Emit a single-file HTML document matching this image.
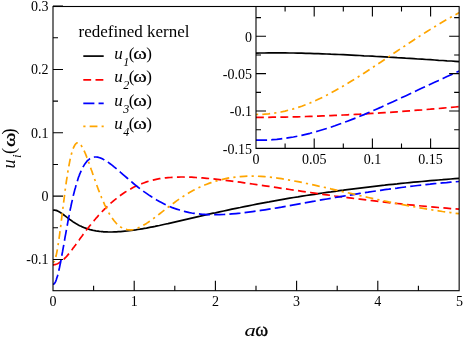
<!DOCTYPE html>
<html><head><meta charset="utf-8"><title>chart</title>
<style>html,body{margin:0;padding:0;background:#fff}body{width:464px;height:338px;overflow:hidden;font-family:"Liberation Serif",serif}</style></head>
<body>
<svg width="464" height="338" viewBox="0 0 464 338" style="display:block;will-change:transform">
<rect x="0" y="0" width="464" height="338" fill="#fff"/>
<defs><clipPath id="cm"><rect x="53" y="6.5" width="406.15" height="284.2"/></clipPath><clipPath id="ci"><rect x="256" y="6.5" width="203.15" height="141.9"/></clipPath></defs>
<g clip-path="url(#cm)" fill="none" stroke-width="1.7" stroke-linejoin="round">
<path d="M53.0 210.4 53.6 210.2 54.3 210.2 54.9 210.2 55.6 210.3 56.2 210.4 56.8 210.6 57.5 210.9 58.1 211.2 58.7 211.5 59.4 211.9 60.0 212.3 60.7 212.7 61.3 213.1 61.9 213.6 62.6 214.0 63.2 214.5 63.9 215.0 64.5 215.5 65.1 215.9 65.8 216.4 66.4 216.9 67.1 217.4 67.7 217.9 68.3 218.4 69.0 218.8 69.6 219.3 70.2 219.8 70.9 220.2 71.5 220.7 72.2 221.1 72.8 221.6 73.4 222.0 74.1 222.4 74.7 222.8 75.4 223.2 76.0 223.6 76.6 224.0 77.3 224.3 77.9 224.7 78.5 225.0 79.2 225.4 79.8 225.7 80.5 226.0 81.1 226.3 81.7 226.6 82.4 226.9 83.0 227.2 83.7 227.4 84.3 227.7 84.9 227.9 85.6 228.2 86.2 228.4 86.8 228.6 87.5 228.8 88.1 229.0 88.8 229.2 89.4 229.4 90.0 229.6 90.7 229.8 91.3 229.9 92.0 230.1 92.6 230.2 93.2 230.4 93.9 230.5 94.5 230.6 95.2 230.7 95.8 230.9 96.4 231.0 97.1 231.1 97.7 231.2 98.3 231.2 99.0 231.3 99.6 231.4 100.3 231.5 100.9 231.5 101.5 231.6 102.2 231.7 102.8 231.7 103.5 231.8 104.1 231.8 104.7 231.8 105.4 231.9 106.0 231.9 106.6 231.9 107.3 231.9 107.9 232.0 108.6 232.0 109.2 232.0 109.8 232.0 112.0 232.0 114.1 231.9 116.3 231.9 118.5 231.7 120.6 231.6 122.8 231.4 124.9 231.2 127.1 231.0 129.2 230.7 131.4 230.5 133.5 230.2 135.7 229.9 137.8 229.5 140.0 229.2 142.2 228.8 144.3 228.4 146.5 228.1 148.6 227.6 150.8 227.2 152.9 226.8 155.1 226.4 157.2 225.9 159.4 225.5 161.5 225.0 163.7 224.5 165.9 224.0 168.0 223.6 170.2 223.1 172.3 222.6 174.5 222.1 176.6 221.6 178.8 221.1 180.9 220.6 183.1 220.1 185.2 219.6 187.4 219.1 189.5 218.6 191.7 218.1 193.9 217.6 196.0 217.1 198.2 216.6 200.3 216.2 202.5 215.7 204.6 215.2 206.8 214.7 208.9 214.2 211.1 213.7 213.2 213.2 215.4 212.8 219.5 211.9 223.7 211.0 227.8 210.1 231.9 209.2 236.0 208.3 240.2 207.5 244.3 206.6 248.4 205.8 252.6 205.0 256.7 204.2 260.8 203.4 264.9 202.6 269.1 201.9 273.2 201.1 277.3 200.4 281.5 199.6 285.6 198.9 289.7 198.2 293.8 197.5 298.0 196.9 302.1 196.2 306.2 195.5 310.4 194.9 314.5 194.3 318.6 193.6 322.7 193.0 326.9 192.4 331.0 191.9 335.1 191.3 339.3 190.7 343.4 190.2 347.5 189.6 351.7 189.1 355.8 188.6 359.9 188.1 364.0 187.6 368.2 187.1 372.3 186.6 376.4 186.1 380.6 185.6 384.7 185.2 388.8 184.7 392.9 184.3 397.1 183.9 401.2 183.4 405.3 183.0 409.5 182.6 413.6 182.2 417.7 181.8 421.8 181.5 426.0 181.1 430.1 180.7 434.2 180.4 438.4 180.0 442.5 179.7 446.6 179.3 450.7 179.0 454.9 178.7 459.0 178.4" stroke="#000000"/>
<path d="M53.0 264.8 53.6 264.8 54.3 264.7 54.9 264.6 55.6 264.4 56.2 264.2 56.8 264.0 57.5 263.7 58.1 263.4 58.7 263.0 59.4 262.7 60.0 262.2 60.7 261.8 61.3 261.3 61.9 260.8 62.6 260.3 63.2 259.8 63.9 259.2 64.5 258.6 65.1 257.9 65.8 257.3 66.4 256.6 67.1 255.9 67.7 255.1 68.3 254.4 69.0 253.6 69.6 252.8 70.2 252.0 70.9 251.2 71.5 250.3 72.2 249.5 72.8 248.6 73.4 247.8 74.1 246.9 74.7 246.1 75.4 245.2 76.0 244.3 76.6 243.4 77.3 242.5 77.9 241.7 78.5 240.8 79.2 239.9 79.8 239.0 80.5 238.1 81.1 237.3 81.7 236.4 82.4 235.5 83.0 234.6 83.7 233.8 84.3 232.9 84.9 232.1 85.6 231.2 86.2 230.4 86.8 229.5 87.5 228.7 88.1 227.9 88.8 227.1 89.4 226.3 90.0 225.5 90.7 224.7 91.3 223.9 92.0 223.1 92.6 222.3 93.2 221.5 93.9 220.8 94.5 220.0 95.2 219.3 95.8 218.5 96.4 217.8 97.1 217.1 97.7 216.4 98.3 215.7 99.0 215.0 99.6 214.3 100.3 213.6 100.9 212.9 101.5 212.2 102.2 211.5 102.8 210.9 103.5 210.2 104.1 209.6 104.7 208.9 105.4 208.3 106.0 207.7 106.6 207.1 107.3 206.5 107.9 205.9 108.6 205.3 109.2 204.7 109.8 204.1 112.0 202.2 114.1 200.3 116.3 198.6 118.5 196.9 120.6 195.3 122.8 193.8 124.9 192.3 127.1 191.0 129.2 189.7 131.4 188.5 133.5 187.3 135.7 186.3 137.8 185.3 140.0 184.3 142.2 183.5 144.3 182.7 146.5 181.9 148.6 181.2 150.8 180.6 152.9 180.1 155.1 179.6 157.2 179.1 159.4 178.7 161.5 178.4 163.7 178.1 165.9 177.8 168.0 177.6 170.2 177.5 172.3 177.3 174.5 177.2 176.6 177.1 178.8 177.1 180.9 177.0 183.1 177.0 185.2 177.1 187.4 177.1 189.5 177.2 191.7 177.2 193.9 177.3 196.0 177.5 198.2 177.6 200.3 177.7 202.5 177.9 204.6 178.1 206.8 178.3 208.9 178.5 211.1 178.7 213.2 178.9 215.4 179.1 219.5 179.6 223.7 180.1 227.8 180.6 231.9 181.1 236.0 181.7 240.2 182.2 244.3 182.8 248.4 183.4 252.6 184.0 256.7 184.6 260.8 185.2 264.9 185.8 269.1 186.4 273.2 187.1 277.3 187.7 281.5 188.3 285.6 188.9 289.7 189.5 293.8 190.1 298.0 190.7 302.1 191.3 306.2 191.9 310.4 192.5 314.5 193.1 318.6 193.7 322.7 194.3 326.9 194.9 331.0 195.4 335.1 196.0 339.3 196.5 343.4 197.1 347.5 197.6 351.7 198.2 355.8 198.7 359.9 199.2 364.0 199.7 368.2 200.2 372.3 200.7 376.4 201.2 380.6 201.7 384.7 202.1 388.8 202.6 392.9 203.1 397.1 203.5 401.2 203.9 405.3 204.4 409.5 204.8 413.6 205.2 417.7 205.6 421.8 206.0 426.0 206.4 430.1 206.8 434.2 207.1 438.4 207.5 442.5 207.9 446.6 208.2 450.7 208.6 454.9 208.9 459.0 209.2" stroke="#ff0000" stroke-dasharray="7.85 4.35"/>
<path d="M53.0 284.1 53.6 284.1 54.3 283.7 54.9 282.8 55.6 281.6 56.2 280.0 56.8 278.1 57.5 276.0 58.1 273.5 58.7 270.9 59.4 268.0 60.0 265.0 60.7 261.8 61.3 258.4 61.9 255.0 62.6 251.4 63.2 247.8 63.9 244.2 64.5 240.6 65.1 236.9 65.8 233.3 66.4 229.8 67.1 226.2 67.7 222.8 68.3 219.3 69.0 216.0 69.6 212.8 70.2 209.6 70.9 206.5 71.5 203.5 72.2 200.6 72.8 197.8 73.4 195.1 74.1 192.5 74.7 190.1 75.4 187.7 76.0 185.4 76.6 183.2 77.3 181.2 77.9 179.2 78.5 177.3 79.2 175.6 79.8 173.9 80.5 172.4 81.1 170.9 81.7 169.5 82.4 168.3 83.0 167.0 83.7 165.9 84.3 164.9 84.9 163.9 85.6 163.0 86.2 162.2 86.8 161.4 87.5 160.7 88.1 160.1 88.8 159.6 89.4 159.1 90.0 158.6 90.7 158.2 91.3 157.9 92.0 157.6 92.6 157.4 93.2 157.2 93.9 157.1 94.5 157.0 95.2 157.0 95.8 157.0 96.4 157.0 97.1 157.1 97.7 157.2 98.3 157.3 99.0 157.5 99.6 157.7 100.3 157.9 100.9 158.2 101.5 158.4 102.2 158.7 102.8 159.0 103.5 159.4 104.1 159.7 104.7 160.1 105.4 160.4 106.0 160.8 106.6 161.3 107.3 161.7 107.9 162.1 108.6 162.6 109.2 163.0 109.8 163.5 112.0 165.1 114.1 166.9 116.3 168.7 118.5 170.5 120.6 172.4 122.8 174.3 124.9 176.1 127.1 178.0 129.2 179.9 131.4 181.7 133.5 183.5 135.7 185.3 137.8 187.0 140.0 188.7 142.2 190.3 144.3 191.9 146.5 193.4 148.6 194.9 150.8 196.3 152.9 197.7 155.1 199.0 157.2 200.3 159.4 201.5 161.5 202.6 163.7 203.7 165.9 204.8 168.0 205.8 170.2 206.7 172.3 207.6 174.5 208.4 176.6 209.1 178.8 209.8 180.9 210.5 183.1 211.1 185.2 211.6 187.4 212.1 189.5 212.6 191.7 213.0 193.9 213.3 196.0 213.6 198.2 213.9 200.3 214.1 202.5 214.3 204.6 214.4 206.8 214.6 208.9 214.6 211.1 214.7 213.2 214.7 215.4 214.7 219.5 214.6 223.7 214.5 227.8 214.2 231.9 213.9 236.0 213.6 240.2 213.2 244.3 212.7 248.4 212.2 252.6 211.6 256.7 211.0 260.8 210.4 264.9 209.8 269.1 209.1 273.2 208.5 277.3 207.8 281.5 207.1 285.6 206.3 289.7 205.6 293.8 204.9 298.0 204.1 302.1 203.4 306.2 202.7 310.4 201.9 314.5 201.2 318.6 200.4 322.7 199.7 326.9 199.0 331.0 198.3 335.1 197.5 339.3 196.8 343.4 196.1 347.5 195.5 351.7 194.8 355.8 194.1 359.9 193.4 364.0 192.8 368.2 192.2 372.3 191.5 376.4 190.9 380.6 190.3 384.7 189.7 388.8 189.2 392.9 188.6 397.1 188.1 401.2 187.5 405.3 187.0 409.5 186.5 413.6 186.0 417.7 185.5 421.8 185.1 426.0 184.6 430.1 184.2 434.2 183.7 438.4 183.3 442.5 182.9 446.6 182.6 450.7 182.2 454.9 181.8 459.0 181.5" stroke="#0000ff" stroke-dasharray="11.1 4.15"/>
<path d="M53.0 262.4 53.6 262.1 54.3 261.2 54.9 259.8 55.6 257.8 56.2 255.3 56.8 252.3 57.5 248.8 58.1 244.9 58.7 240.7 59.4 236.1 60.0 231.3 60.7 226.4 61.3 221.3 61.9 216.0 62.6 210.8 63.2 205.6 63.9 200.4 64.5 195.4 65.1 190.5 65.8 185.7 66.4 181.2 67.1 176.9 67.7 172.8 68.3 169.0 69.0 165.4 69.6 162.1 70.2 159.1 70.9 156.3 71.5 153.8 72.2 151.6 72.8 149.7 73.4 147.9 74.1 146.5 74.7 145.3 75.4 144.3 76.0 143.6 76.6 143.1 77.3 142.8 77.9 142.8 78.5 142.9 79.2 143.2 79.8 143.7 80.5 144.4 81.1 145.2 81.7 146.2 82.4 147.2 83.0 148.4 83.7 149.7 84.3 151.1 84.9 152.5 85.6 154.1 86.2 155.6 86.8 157.3 87.5 159.0 88.1 160.7 88.8 162.5 89.4 164.2 90.0 166.0 90.7 167.9 91.3 169.7 92.0 171.5 92.6 173.4 93.2 175.2 93.9 177.0 94.5 178.9 95.2 180.7 95.8 182.4 96.4 184.2 97.1 186.0 97.7 187.7 98.3 189.4 99.0 191.1 99.6 192.7 100.3 194.4 100.9 195.9 101.5 197.5 102.2 199.0 102.8 200.5 103.5 202.0 104.1 203.4 104.7 204.8 105.4 206.2 106.0 207.5 106.6 208.8 107.3 210.0 107.9 211.2 108.6 212.4 109.2 213.5 109.8 214.5 112.0 217.9 114.1 220.8 116.3 223.3 118.5 225.3 120.6 227.0 122.8 228.3 124.9 229.2 127.1 229.7 129.2 229.9 131.4 229.8 133.5 229.5 135.7 228.9 137.8 228.1 140.0 227.1 142.2 226.0 144.3 224.7 146.5 223.4 148.6 222.0 150.8 220.5 152.9 218.9 155.1 217.3 157.2 215.6 159.4 214.0 161.5 212.3 163.7 210.6 165.9 209.0 168.0 207.3 170.2 205.7 172.3 204.1 174.5 202.5 176.6 200.9 178.8 199.4 180.9 197.9 183.1 196.5 185.2 195.1 187.4 193.8 189.5 192.5 191.7 191.3 193.9 190.1 196.0 189.0 198.2 187.9 200.3 186.9 202.5 185.9 204.6 185.0 206.8 184.2 208.9 183.4 211.1 182.6 213.2 181.9 215.4 181.2 219.5 180.1 223.7 179.1 227.8 178.2 231.9 177.5 236.0 177.0 240.2 176.6 244.3 176.3 248.4 176.2 252.6 176.1 256.7 176.2 260.8 176.4 264.9 176.7 269.1 177.1 273.2 177.6 277.3 178.1 281.5 178.7 285.6 179.4 289.7 180.1 293.8 180.9 298.0 181.7 302.1 182.5 306.2 183.4 310.4 184.2 314.5 185.1 318.6 186.1 322.7 187.0 326.9 187.9 331.0 188.9 335.1 189.8 339.3 190.8 343.4 191.8 347.5 192.7 351.7 193.7 355.8 194.6 359.9 195.6 364.0 196.5 368.2 197.5 372.3 198.4 376.4 199.3 380.6 200.2 384.7 201.0 388.8 201.9 392.9 202.7 397.1 203.6 401.2 204.4 405.3 205.2 409.5 206.0 413.6 206.7 417.7 207.5 421.8 208.2 426.0 208.9 430.1 209.6 434.2 210.2 438.4 210.8 442.5 211.5 446.6 212.1 450.7 212.6 454.9 213.2 459.0 213.7" stroke="#ffa500" stroke-dasharray="2.2 4.15 7.8 4.15"/>
</g>
<g clip-path="url(#ci)" fill="none" stroke-width="1.7" stroke-linejoin="round">
<path d="M256.0 53.1 260.2 53.0 264.3 53.0 268.5 52.9 272.6 52.9 276.8 52.9 280.9 52.9 285.1 52.9 289.2 53.0 293.4 53.0 297.5 53.1 301.7 53.2 305.8 53.3 310.0 53.4 314.1 53.6 318.3 53.7 322.4 53.8 326.6 54.0 330.7 54.2 334.9 54.3 339.0 54.5 343.2 54.7 347.4 54.9 351.5 55.1 355.7 55.3 359.8 55.5 364.0 55.8 368.1 56.0 372.3 56.2 376.4 56.5 380.6 56.7 384.7 56.9 388.9 57.2 393.0 57.4 397.2 57.7 401.3 57.9 405.5 58.2 409.6 58.4 413.8 58.7 417.9 59.0 422.1 59.2 426.2 59.5 430.4 59.7 434.6 60.0 438.7 60.3 442.9 60.5 447.0 60.8 451.2 61.0 455.3 61.3 459.5 61.6" stroke="#000000"/>
<path d="M256.0 117.3 260.2 117.3 264.3 117.3 268.5 117.3 272.6 117.2 276.8 117.2 280.9 117.1 285.1 117.1 289.2 117.0 293.4 116.9 297.5 116.8 301.7 116.7 305.8 116.5 310.0 116.4 314.1 116.3 318.3 116.1 322.4 115.9 326.6 115.8 330.7 115.6 334.9 115.4 339.0 115.2 343.2 115.0 347.4 114.8 351.5 114.6 355.7 114.4 359.8 114.2 364.0 113.9 368.1 113.7 372.3 113.4 376.4 113.2 380.6 112.9 384.7 112.6 388.9 112.4 393.0 112.1 397.2 111.8 401.3 111.5 405.5 111.2 409.6 110.9 413.8 110.5 417.9 110.2 422.1 109.9 426.2 109.5 430.4 109.2 434.6 108.8 438.7 108.5 442.9 108.1 447.0 107.7 451.2 107.4 455.3 107.0 459.5 106.6" stroke="#ff0000" stroke-dasharray="7.85 4.35"/>
<path d="M256.0 140.1 260.2 140.2 264.3 140.1 268.5 140.0 272.6 139.7 276.8 139.4 280.9 138.9 285.1 138.3 289.2 137.7 293.4 137.0 297.5 136.2 301.7 135.3 305.8 134.3 310.0 133.3 314.1 132.2 318.3 131.0 322.4 129.8 326.6 128.5 330.7 127.2 334.9 125.8 339.0 124.3 343.2 122.8 347.4 121.2 351.5 119.6 355.7 118.0 359.8 116.3 364.0 114.6 368.1 112.8 372.3 111.0 376.4 109.2 380.6 107.4 384.7 105.5 388.9 103.6 393.0 101.7 397.2 99.8 401.3 97.8 405.5 95.9 409.6 94.0 413.8 92.0 417.9 90.1 422.1 88.1 426.2 86.2 430.4 84.2 434.6 82.3 438.7 80.4 442.9 78.5 447.0 76.6 451.2 74.7 455.3 72.8 459.5 70.9" stroke="#0000ff" stroke-dasharray="11.1 4.15"/>
<path d="M256.0 114.5 260.2 114.4 264.3 114.2 268.5 113.8 272.6 113.3 276.8 112.7 280.9 112.0 285.1 111.1 289.2 110.0 293.4 108.9 297.5 107.6 301.7 106.2 305.8 104.7 310.0 103.0 314.1 101.2 318.3 99.3 322.4 97.4 326.6 95.3 330.7 93.1 334.9 90.8 339.0 88.5 343.2 86.1 347.4 83.6 351.5 81.1 355.7 78.5 359.8 75.9 364.0 73.2 368.1 70.5 372.3 67.8 376.4 65.0 380.6 62.3 384.7 59.5 388.9 56.6 393.0 53.8 397.2 51.0 401.3 48.2 405.5 45.5 409.6 42.7 413.8 40.0 417.9 37.3 422.1 34.6 426.2 32.0 430.4 29.4 434.6 26.8 438.7 24.3 442.9 21.8 447.0 19.4 451.2 17.1 455.3 14.8 459.5 12.5" stroke="#ffa500" stroke-dasharray="2.2 4.15 7.8 4.15"/>
</g>
<g stroke="#000" stroke-width="1.1" fill="none">
<rect x="53" y="6.5" width="406.15" height="284.2"/>
<path d="M256 6.5 V148.4 H459.15"/>
<path d="M93.60 290.7 v-5 M134.20 290.7 v-10 M174.80 290.7 v-5 M215.40 290.7 v-10 M256.00 290.7 v-5 M296.60 290.7 v-10 M337.20 290.7 v-5 M377.80 290.7 v-10 M418.40 290.7 v-5 M53 259.43 h10 M53 227.76 h5 M53 196.10 h10 M53 164.44 h5 M53 132.77 h10 M53 101.10 h5 M53 69.44 h10 M53 37.78 h5 M53 6.11 h10 M285.10 148.4 v-5 M285.10 6.5 v5 M314.20 148.4 v-10 M314.20 6.5 v10 M343.30 148.4 v-5 M343.30 6.5 v5 M372.40 148.4 v-10 M372.40 6.5 v10 M401.50 148.4 v-5 M401.50 6.5 v5 M430.60 148.4 v-10 M430.60 6.5 v10 M256 129.68 h5 M459.15 129.68 h-5 M256 111.00 h10 M459.15 111.00 h-10 M256 92.33 h5 M459.15 92.33 h-5 M256 73.65 h10 M459.15 73.65 h-10 M256 54.97 h5 M459.15 54.97 h-5 M256 36.30 h10 M459.15 36.30 h-10 M256 17.62 h5 M459.15 17.62 h-5"/>
</g>
<g font-family="'Liberation Serif', serif" fill="#000" font-size="14">
<text x="48.5" y="264.33" text-anchor="end">-0.1</text>
<text x="48.5" y="201.00" text-anchor="end">0</text>
<text x="48.5" y="137.67" text-anchor="end">0.1</text>
<text x="48.5" y="74.34" text-anchor="end">0.2</text>
<text x="48.5" y="11.01" text-anchor="end">0.3</text>
<text x="53.00" y="305.6" text-anchor="middle">0</text>
<text x="134.20" y="305.6" text-anchor="middle">1</text>
<text x="215.40" y="305.6" text-anchor="middle">2</text>
<text x="296.60" y="305.6" text-anchor="middle">3</text>
<text x="377.80" y="305.6" text-anchor="middle">4</text>
<text x="459.50" y="305.6" text-anchor="middle">5</text>
<text x="252" y="153.65" text-anchor="end">-0.15</text>
<text x="252" y="116.30" text-anchor="end">-0.1</text>
<text x="252" y="78.95" text-anchor="end">-0.05</text>
<text x="252" y="41.60" text-anchor="end">0</text>
<text x="256.00" y="163.6" text-anchor="middle">0</text>
<text x="314.20" y="163.6" text-anchor="middle">0.05</text>
<text x="372.40" y="163.6" text-anchor="middle">0.1</text>
<text x="430.60" y="163.6" text-anchor="middle">0.15</text>
</g>
<g font-family="'Liberation Serif', serif" fill="#000" font-size="17">
<text x="78.6" y="37">redefined kernel</text>
<path d="M83.3 56.1 H103.7" stroke="#000000" stroke-width="1.7" fill="none"/>
<text x="114.2" y="59" font-style="italic">u</text>
<text x="123.2" y="65.9" font-style="italic" font-size="12">1</text>
<text x="128.7" y="59">(</text>
<text transform="translate(133.2,59) scale(1.17,1)" font-size="17.6" stroke="#000" stroke-width="0.22">ω</text>
<text x="146.3" y="59">)</text>
<path d="M83.3 79.9 H103.7" stroke="#ff0000" stroke-width="1.7" fill="none" stroke-dasharray="7.85 4.35"/>
<text x="114.2" y="82" font-style="italic">u</text>
<text x="123.2" y="88.9" font-style="italic" font-size="12">2</text>
<text x="128.7" y="82">(</text>
<text transform="translate(133.2,82) scale(1.17,1)" font-size="17.6" stroke="#000" stroke-width="0.22">ω</text>
<text x="146.3" y="82">)</text>
<path d="M83.3 103.3 H103.7" stroke="#0000ff" stroke-width="1.7" fill="none" stroke-dasharray="11.1 4.15"/>
<text x="114.2" y="106" font-style="italic">u</text>
<text x="123.2" y="112.9" font-style="italic" font-size="12">3</text>
<text x="128.7" y="106">(</text>
<text transform="translate(133.2,106) scale(1.17,1)" font-size="17.6" stroke="#000" stroke-width="0.22">ω</text>
<text x="146.3" y="106">)</text>
<path d="M83.3 126.3 H103.7" stroke="#ffa500" stroke-width="1.7" fill="none" stroke-dasharray="2.2 4.15 7.8 4.15"/>
<text x="114.2" y="129" font-style="italic">u</text>
<text x="123.2" y="135.9" font-style="italic" font-size="12">4</text>
<text x="128.7" y="129">(</text>
<text transform="translate(133.2,129) scale(1.17,1)" font-size="17.6" stroke="#000" stroke-width="0.22">ω</text>
<text x="146.3" y="129">)</text>
</g>
<g font-family="'Liberation Serif', serif" fill="#000" font-size="20">
<text transform="translate(244.6,336.3) scale(1.25,0.93)" font-size="18" font-style="italic">a</text>
<text transform="translate(255.2,336.3)" font-size="19.6" stroke="#000" stroke-width="0.35">ω</text>
<g transform="translate(15,168.6) rotate(-90)"><text x="0" y="0" font-size="18" font-style="italic">u</text><text x="10.6" y="6.3" font-style="italic" font-size="13">i</text><text x="14.6" y="0" font-size="18.5">(</text><text transform="translate(21.6,0) scale(1.25,1)" font-size="17.6" stroke="#000" stroke-width="0.35">ω</text><text x="34.1" y="0" font-size="18.5">)</text></g>
</g>
</svg>
</body></html>
